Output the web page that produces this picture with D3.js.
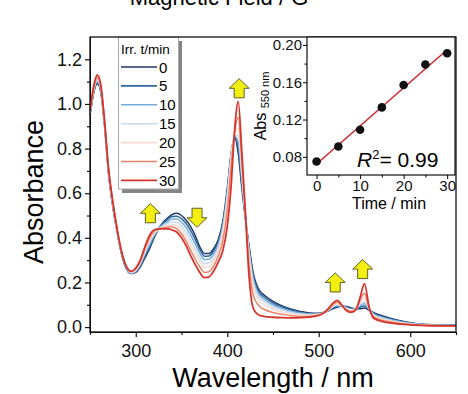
<!DOCTYPE html>
<html>
<head>
<meta charset="utf-8">
<script src="https://cdn.jsdelivr.net/npm/d3@7"></script>
<style>
  body { margin: 0; background: #fff; }
  svg { display: block; font-family: "Liberation Sans", Arial, sans-serif; }
</style>
</head>
<body>
<div id="chart"></div>
<script>
// irradiation times (legend) and the wavelength grid shared by all spectra
const irrTimes = [0, 5, 10, 15, 20, 25, 30];
const wavelengths = [250, 254, 258, 262, 266, 270, 275, 280, 285, 290, 295, 300, 305, 310, 315, 320,
  325, 330, 335, 340, 345, 350, 355, 360, 365, 370, 375, 380, 385, 390, 395, 400, 404, 408, 412,
  416, 420, 424, 428, 432, 436, 440, 450, 460, 470, 480, 490, 500, 505, 510, 515, 520, 525, 530,
  535, 540, 545, 550, 555, 560, 570, 580, 600, 625, 650];

// absorbance, one array per irradiation time
const abs_t0 = [0.95, 1.05, 1.09, 1.05, 0.90, 0.70, 0.54, 0.42, 0.32, 0.26, 0.24, 0.245, 0.27, 0.31, 0.35, 0.40,
  0.44, 0.47, 0.49, 0.505, 0.51, 0.50, 0.48, 0.45, 0.41, 0.36, 0.33, 0.33, 0.35, 0.39, 0.47, 0.62, 0.77, 0.85, 0.78,
  0.62, 0.48, 0.36, 0.25, 0.19, 0.16, 0.145, 0.115, 0.095, 0.08, 0.07, 0.063, 0.062, 0.065, 0.072, 0.082, 0.089, 0.093, 0.092,
  0.087, 0.082, 0.082, 0.085, 0.075, 0.065, 0.05, 0.038, 0.02, 0.01, 0.008];
const abs_t5 = [0.95, 1.05, 1.10, 1.05, 0.90, 0.70, 0.54, 0.42, 0.32, 0.26, 0.24, 0.247, 0.274, 0.318, 0.359, 0.405,
  0.44, 0.465, 0.483, 0.496, 0.497, 0.486, 0.464, 0.432, 0.393, 0.348, 0.318, 0.319, 0.34, 0.38, 0.46, 0.61, 0.765, 0.852, 0.80,
  0.64, 0.485, 0.35, 0.24, 0.18, 0.15, 0.136, 0.108, 0.09, 0.076, 0.067, 0.06, 0.06, 0.064, 0.073, 0.085, 0.092, 0.094, 0.09,
  0.084, 0.081, 0.089, 0.095, 0.078, 0.062, 0.047, 0.035, 0.018, 0.009, 0.007];
const abs_t10 = [0.96, 1.06, 1.10, 1.06, 0.91, 0.71, 0.55, 0.42, 0.32, 0.26, 0.24, 0.25, 0.28, 0.326, 0.368, 0.41,
  0.44, 0.46, 0.474, 0.484, 0.484, 0.47, 0.446, 0.412, 0.373, 0.332, 0.303, 0.304, 0.327, 0.368, 0.45, 0.60, 0.76, 0.855, 0.83,
  0.66, 0.49, 0.34, 0.225, 0.168, 0.14, 0.126, 0.1, 0.084, 0.071, 0.063, 0.058, 0.059, 0.064, 0.074, 0.088, 0.096, 0.095, 0.087,
  0.081, 0.08, 0.096, 0.105, 0.08, 0.058, 0.043, 0.032, 0.017, 0.009, 0.007];
const abs_t15 = [0.96, 1.06, 1.11, 1.06, 0.91, 0.71, 0.55, 0.42, 0.33, 0.27, 0.245, 0.253, 0.285, 0.335, 0.38, 0.417,
  0.44, 0.455, 0.465, 0.471, 0.469, 0.452, 0.425, 0.39, 0.35, 0.313, 0.285, 0.287, 0.311, 0.354, 0.435, 0.585, 0.755, 0.86, 0.86,
  0.68, 0.49, 0.33, 0.21, 0.155, 0.128, 0.115, 0.09, 0.077, 0.066, 0.059, 0.056, 0.058, 0.064, 0.075, 0.091, 0.10, 0.096, 0.085,
  0.078, 0.079, 0.103, 0.115, 0.082, 0.055, 0.039, 0.029, 0.015, 0.008, 0.006];
const abs_t20 = [0.96, 1.07, 1.12, 1.07, 0.91, 0.71, 0.55, 0.43, 0.33, 0.27, 0.245, 0.256, 0.29, 0.343, 0.39, 0.423,
  0.44, 0.45, 0.456, 0.459, 0.454, 0.435, 0.405, 0.368, 0.328, 0.294, 0.267, 0.27, 0.295, 0.34, 0.42, 0.57, 0.75, 0.865, 0.89,
  0.70, 0.495, 0.31, 0.19, 0.14, 0.114, 0.102, 0.08, 0.068, 0.06, 0.055, 0.053, 0.056, 0.063, 0.076, 0.094, 0.105, 0.097, 0.082,
  0.075, 0.078, 0.11, 0.13, 0.084, 0.051, 0.035, 0.026, 0.014, 0.008, 0.006];
const abs_t25 = [0.97, 1.07, 1.12, 1.07, 0.92, 0.72, 0.56, 0.43, 0.33, 0.27, 0.25, 0.26, 0.295, 0.35, 0.40, 0.43,
  0.44, 0.445, 0.448, 0.448, 0.44, 0.418, 0.385, 0.344, 0.304, 0.27, 0.245, 0.248, 0.273, 0.316, 0.385, 0.52, 0.71, 0.87, 0.94,
  0.74, 0.50, 0.27, 0.15, 0.11, 0.09, 0.08, 0.065, 0.057, 0.051, 0.048, 0.049, 0.054, 0.063, 0.078, 0.099, 0.112, 0.098, 0.079,
  0.07, 0.077, 0.12, 0.15, 0.087, 0.046, 0.03, 0.022, 0.012, 0.007, 0.005];
const abs_t30 = [0.97, 1.08, 1.13, 1.08, 0.92, 0.72, 0.56, 0.43, 0.33, 0.27, 0.25, 0.265, 0.30, 0.36, 0.41, 0.435,
  0.44, 0.44, 0.44, 0.435, 0.425, 0.40, 0.365, 0.32, 0.28, 0.245, 0.222, 0.225, 0.25, 0.29, 0.34, 0.45, 0.62, 0.88, 1.01,
  0.78, 0.50, 0.22, 0.09, 0.062, 0.052, 0.048, 0.044, 0.042, 0.041, 0.042, 0.045, 0.052, 0.062, 0.08, 0.105, 0.12, 0.10, 0.075,
  0.066, 0.075, 0.13, 0.195, 0.09, 0.04, 0.025, 0.018, 0.01, 0.006, 0.005];
const spectra = [abs_t0, abs_t5, abs_t10, abs_t15, abs_t20, abs_t25, abs_t30];
const seriesColors = ["#1f3866", "#2f679e", "#74abd6", "#c8dbec", "#f6dbd0", "#e9836b", "#d4362d"];

// change arrows: wavelength, absorbance, direction
const arrowAt = [
  { w: 316, a: 0.51, up: true },
  { w: 367, a: 0.49, up: false },
  { w: 413, a: 1.07, up: true },
  { w: 518, a: 0.20, up: true },
  { w: 548, a: 0.26, up: true }
];

// inset: absorbance at 550 nm vs irradiation time
const timeMin = [0, 5, 10, 15, 20, 25, 30];
const abs550 = [0.075, 0.091, 0.109, 0.133, 0.157, 0.179, 0.191];

const width = 468, height = 394;
const margin = { top: 37, right: 12, bottom: 62, left: 90 };
const plot = {
  left: margin.left, right: width - margin.right,
  top: margin.top, bottom: height - margin.bottom
};

const svg = d3.select("#chart").append("svg")
  .attr("width", width).attr("height", height)
  .attr("viewBox", `0 0 ${width} ${height}`);

// title, cut off at the top edge as in the source figure
svg.append("text")
  .attr("x", 219).attr("y", 5)
  .attr("text-anchor", "middle")
  .style("font-size", "22px")
  .text("Magnetic Field / G");

const x = d3.scaleLinear().domain([250, 650]).range([plot.left, plot.right]);
const y = d3.scaleLinear().domain([-0.022, 1.3]).range([plot.bottom, plot.top]);

// axes
const xAxis = svg.append("g")
  .attr("transform", `translate(0,${plot.bottom})`)
  .call(d3.axisBottom(x).tickValues([300, 400, 500, 600]).tickFormat(d3.format("d"))
    .tickSize(5).tickPadding(7).tickSizeOuter(0));
svg.append("g")
  .attr("transform", `translate(0,${plot.bottom})`)
  .call(d3.axisBottom(x).tickValues([250, 350, 450, 550, 650]).tickFormat("").tickSize(3).tickSizeOuter(0))
  .select(".domain").remove();

const yAxis = svg.append("g")
  .attr("transform", `translate(${plot.left},0)`)
  .call(d3.axisLeft(y).tickValues([0, 0.2, 0.4, 0.6, 0.8, 1.0, 1.2]).tickFormat(d3.format(".1f"))
    .tickSize(5).tickPadding(3).tickSizeOuter(0));
svg.append("g")
  .attr("transform", `translate(${plot.left},0)`)
  .call(d3.axisLeft(y).tickValues([0.1, 0.3, 0.5, 0.7, 0.9, 1.1]).tickFormat("").tickSize(3).tickSizeOuter(0))
  .select(".domain").remove();

[xAxis, yAxis].forEach(g => {
  g.selectAll("text").style("font-size", "18px").attr("fill", "#111")
    .style("font-family", "'Liberation Sans', Arial, sans-serif");
});
svg.selectAll(".tick line").attr("stroke", "#111").attr("stroke-width", 1.2);

// axis titles
svg.append("text")
  .attr("x", 273).attr("y", 387)
  .attr("text-anchor", "middle")
  .style("font-size", "27px")
  .text("Wavelength / nm");
svg.append("text")
  .attr("transform", "translate(43,192) rotate(-90)")
  .attr("text-anchor", "middle")
  .style("font-size", "27px")
  .text("Absorbance");

// spectra
const line = d3.line()
  .x((d, i) => x(wavelengths[i]))
  .y(d => y(d))
  .curve(d3.curveMonotoneX);

svg.append("g").attr("class", "spectra")
  .selectAll("path")
  .data(spectra)
  .join("path")
  .attr("d", line)
  .attr("fill", "none")
  .attr("stroke", (d, i) => seriesColors[i])
  .attr("stroke-width", (d, i) => i === spectra.length - 1 ? 1.8 : 1.5);

// arrows
const arrowUp = "M0,-9.5 L10,0 L5,0 L5,9.5 L-5,9.5 L-5,0 L-10,0 Z";
svg.append("g").selectAll("path")
  .data(arrowAt)
  .join("path")
  .attr("d", arrowUp)
  .attr("transform", d => `translate(${x(d.w)},${y(d.a)}) scale(1,${d.up ? 1 : -1})`)
  .attr("fill", "#f3ef12")
  .attr("stroke", "#5f5f28")
  .attr("stroke-width", 1);

// legend
const legend = svg.append("g");
legend.append("rect")
  .attr("x", 122).attr("y", 41).attr("width", 60).attr("height", 152)
  .attr("fill", "#858585");
legend.append("rect")
  .attr("x", 118.5).attr("y", plot.top).attr("width", 60).attr("height", 152)
  .attr("fill", "#fff").attr("stroke", "#a8a8a8").attr("stroke-width", 1);
legend.append("text")
  .attr("x", 121).attr("y", 54)
  .style("font-size", "13.5px")
  .text("Irr. t/min");
const rows = legend.selectAll("g.row")
  .data(irrTimes)
  .join("g")
  .attr("class", "row")
  .attr("transform", (d, i) => `translate(0,${67 + i * 18.9})`);
rows.append("line")
  .attr("x1", 121).attr("x2", 157)
  .attr("stroke", (d, i) => seriesColors[i])
  .attr("stroke-width", 1.6);
rows.append("text")
  .attr("x", 159).attr("y", 5.5)
  .style("font-size", "15px")
  .text(d => d);

// frame
svg.append("rect")
  .attr("x", plot.left).attr("y", plot.top)
  .attr("width", plot.right - plot.left).attr("height", plot.bottom - plot.top)
  .attr("fill", "none").attr("stroke", "#111").attr("stroke-width", 1.3);

// inset
const inset = { left: 307, right: plot.right - 1, top: plot.top, bottom: 175 };
const ix = d3.scaleLinear().domain([-2.2, 31.8]).range([inset.left, inset.right]);
const iy = d3.scaleLinear().domain([0.0605, 0.2085]).range([inset.bottom, inset.top]);

svg.append("rect")
  .attr("x", inset.left).attr("y", inset.top)
  .attr("width", inset.right - inset.left).attr("height", inset.bottom - inset.top)
  .attr("fill", "#fff").attr("stroke", "#111").attr("stroke-width", 1.2);

const ixAxis = svg.append("g")
  .attr("transform", `translate(0,${inset.bottom})`)
  .call(d3.axisBottom(ix).tickValues([0, 10, 20, 30]).tickSize(4).tickPadding(1).tickSizeOuter(0));
svg.append("g")
  .attr("transform", `translate(0,${inset.bottom})`)
  .call(d3.axisBottom(ix).tickValues([5, 15, 25]).tickFormat("").tickSize(2.5).tickSizeOuter(0))
  .select(".domain").remove();
const iyAxis = svg.append("g")
  .attr("transform", `translate(${inset.left},0)`)
  .call(d3.axisLeft(iy).tickValues([0.08, 0.12, 0.16, 0.20]).tickFormat(d3.format(".2f"))
    .tickSize(4).tickPadding(1).tickSizeOuter(0));
svg.append("g")
  .attr("transform", `translate(${inset.left},0)`)
  .call(d3.axisLeft(iy).tickValues([0.10, 0.14, 0.18]).tickFormat("").tickSize(2.5).tickSizeOuter(0))
  .select(".domain").remove();
[ixAxis, iyAxis].forEach(g => {
  g.selectAll("text").style("font-size", "15px").attr("fill", "#111")
    .style("font-family", "'Liberation Sans', Arial, sans-serif");
  g.select(".domain").attr("stroke", "none");
});

svg.append("text")
  .attr("x", 389).attr("y", 209)
  .attr("text-anchor", "middle")
  .style("font-size", "16px")
  .text("Time / min");
const absLabel = svg.append("text")
  .attr("transform", `translate(266,${(inset.top + inset.bottom) / 2}) rotate(-90)`)
  .attr("text-anchor", "middle")
  .style("font-size", "16px");
absLabel.append("tspan").text("Abs ");
absLabel.append("tspan").attr("dy", 3).style("font-size", "11px").text("550 nm");

// linear fit through the inset points
const mt = d3.mean(timeMin), ma = d3.mean(abs550);
const slope = d3.sum(timeMin, (t, i) => (t - mt) * (abs550[i] - ma)) / d3.sum(timeMin, t => (t - mt) ** 2);
const icept = ma - slope * mt;
const fitTimes = [timeMin[0], timeMin[timeMin.length - 1]];
svg.append("path")
  .datum(fitTimes)
  .attr("d", d3.line().x(t => ix(t)).y(t => iy(icept + slope * t)))
  .attr("stroke", "#c9262c").attr("stroke-width", 1.5).attr("fill", "none");

svg.append("g").selectAll("circle")
  .data(timeMin)
  .join("circle")
  .attr("cx", t => ix(t))
  .attr("cy", (t, i) => iy(abs550[i]))
  .attr("r", 4.3)
  .attr("fill", "#111");

const r2 = svg.append("text")
  .attr("x", 357).attr("y", 167)
  .style("font-size", "21px");
r2.append("tspan").style("font-style", "italic").text("R");
r2.append("tspan").attr("dy", -8).style("font-size", "13px").text("2");
r2.append("tspan").attr("dy", 8).text("= 0.99");
</script>
</body>
</html>
